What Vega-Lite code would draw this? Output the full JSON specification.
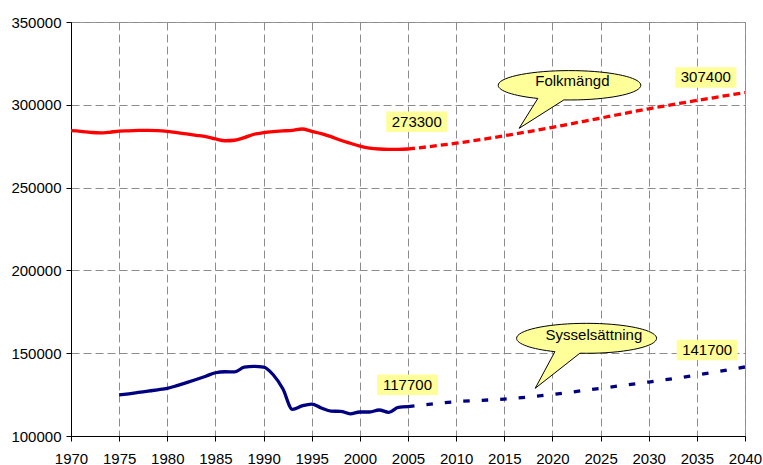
{
  "$schema": "https://vega.github.io/schema/vega-lite/v6.json",
  "width": 674,
  "height": 414,
  "autosize": {"type": "none"},
  "padding": {"left": 71, "top": 22, "right": 18, "bottom": 29},
  "background": "white",
  "config": {
    "font": "Liberation Sans",
    "view": {"stroke": "#999999", "strokeWidth": 1},
    "axis": {
      "domainColor": "#000000",
      "domainWidth": 1,
      "tickColor": "#000000",
      "tickSize": 5,
      "labelFont": "Liberation Sans",
      "labelFontSize": 15,
      "labelColor": "#000000",
      "gridColor": "#8c8c8c",
      "gridDash": [8, 4],
      "gridWidth": 1,
      "title": null
    }
  },
  "datasets": {
    "series": [
      {"year": 1970, "value": 284400, "series": "Folkmängd", "type": "Utfall"},
      {"year": 1971, "value": 284000, "series": "Folkmängd", "type": "Utfall"},
      {"year": 1972, "value": 283400, "series": "Folkmängd", "type": "Utfall"},
      {"year": 1973, "value": 283000, "series": "Folkmängd", "type": "Utfall"},
      {"year": 1974, "value": 283400, "series": "Folkmängd", "type": "Utfall"},
      {"year": 1975, "value": 284100, "series": "Folkmängd", "type": "Utfall"},
      {"year": 1976, "value": 284300, "series": "Folkmängd", "type": "Utfall"},
      {"year": 1977, "value": 284500, "series": "Folkmängd", "type": "Utfall"},
      {"year": 1978, "value": 284600, "series": "Folkmängd", "type": "Utfall"},
      {"year": 1979, "value": 284400, "series": "Folkmängd", "type": "Utfall"},
      {"year": 1980, "value": 283900, "series": "Folkmängd", "type": "Utfall"},
      {"year": 1981, "value": 283200, "series": "Folkmängd", "type": "Utfall"},
      {"year": 1982, "value": 282400, "series": "Folkmängd", "type": "Utfall"},
      {"year": 1983, "value": 281600, "series": "Folkmängd", "type": "Utfall"},
      {"year": 1984, "value": 280800, "series": "Folkmängd", "type": "Utfall"},
      {"year": 1985, "value": 279400, "series": "Folkmängd", "type": "Utfall"},
      {"year": 1986, "value": 278300, "series": "Folkmängd", "type": "Utfall"},
      {"year": 1987, "value": 278600, "series": "Folkmängd", "type": "Utfall"},
      {"year": 1988, "value": 280200, "series": "Folkmängd", "type": "Utfall"},
      {"year": 1989, "value": 282200, "series": "Folkmängd", "type": "Utfall"},
      {"year": 1990, "value": 283200, "series": "Folkmängd", "type": "Utfall"},
      {"year": 1991, "value": 283800, "series": "Folkmängd", "type": "Utfall"},
      {"year": 1992, "value": 284200, "series": "Folkmängd", "type": "Utfall"},
      {"year": 1993, "value": 284600, "series": "Folkmängd", "type": "Utfall"},
      {"year": 1994, "value": 285400, "series": "Folkmängd", "type": "Utfall"},
      {"year": 1995, "value": 284000, "series": "Folkmängd", "type": "Utfall"},
      {"year": 1996, "value": 282600, "series": "Folkmängd", "type": "Utfall"},
      {"year": 1997, "value": 280800, "series": "Folkmängd", "type": "Utfall"},
      {"year": 1998, "value": 278600, "series": "Folkmängd", "type": "Utfall"},
      {"year": 1999, "value": 276800, "series": "Folkmängd", "type": "Utfall"},
      {"year": 2000, "value": 275100, "series": "Folkmängd", "type": "Utfall"},
      {"year": 2001, "value": 273900, "series": "Folkmängd", "type": "Utfall"},
      {"year": 2002, "value": 273300, "series": "Folkmängd", "type": "Utfall"},
      {"year": 2003, "value": 273100, "series": "Folkmängd", "type": "Utfall"},
      {"year": 2004, "value": 273100, "series": "Folkmängd", "type": "Utfall"},
      {"year": 2005, "value": 273300, "series": "Folkmängd", "type": "Utfall"},
      {"year": 2005, "value": 273300, "series": "Folkmängd", "type": "Prognos"},
      {"year": 2010, "value": 276800, "series": "Folkmängd", "type": "Prognos"},
      {"year": 2015, "value": 281300, "series": "Folkmängd", "type": "Prognos"},
      {"year": 2020, "value": 286400, "series": "Folkmängd", "type": "Prognos"},
      {"year": 2025, "value": 292000, "series": "Folkmängd", "type": "Prognos"},
      {"year": 2030, "value": 297600, "series": "Folkmängd", "type": "Prognos"},
      {"year": 2035, "value": 302600, "series": "Folkmängd", "type": "Prognos"},
      {"year": 2040, "value": 307400, "series": "Folkmängd", "type": "Prognos"},
      {"year": 1975, "value": 124800, "series": "Sysselsättning", "type": "Utfall"},
      {"year": 1976, "value": 125500, "series": "Sysselsättning", "type": "Utfall"},
      {"year": 1977, "value": 126300, "series": "Sysselsättning", "type": "Utfall"},
      {"year": 1978, "value": 127100, "series": "Sysselsättning", "type": "Utfall"},
      {"year": 1979, "value": 127900, "series": "Sysselsättning", "type": "Utfall"},
      {"year": 1980, "value": 128800, "series": "Sysselsättning", "type": "Utfall"},
      {"year": 1981, "value": 130400, "series": "Sysselsättning", "type": "Utfall"},
      {"year": 1982, "value": 132200, "series": "Sysselsättning", "type": "Utfall"},
      {"year": 1983, "value": 134100, "series": "Sysselsättning", "type": "Utfall"},
      {"year": 1984, "value": 136100, "series": "Sysselsättning", "type": "Utfall"},
      {"year": 1985, "value": 138200, "series": "Sysselsättning", "type": "Utfall"},
      {"year": 1986, "value": 138800, "series": "Sysselsättning", "type": "Utfall"},
      {"year": 1987, "value": 138700, "series": "Sysselsättning", "type": "Utfall"},
      {"year": 1988, "value": 141600, "series": "Sysselsättning", "type": "Utfall"},
      {"year": 1989, "value": 142100, "series": "Sysselsättning", "type": "Utfall"},
      {"year": 1990, "value": 141600, "series": "Sysselsättning", "type": "Utfall"},
      {"year": 1991, "value": 137000, "series": "Sysselsättning", "type": "Utfall"},
      {"year": 1992, "value": 128500, "series": "Sysselsättning", "type": "Utfall"},
      {"year": 1993, "value": 116100, "series": "Sysselsättning", "type": "Utfall"},
      {"year": 1994, "value": 118200, "series": "Sysselsättning", "type": "Utfall"},
      {"year": 1995, "value": 119300, "series": "Sysselsättning", "type": "Utfall"},
      {"year": 1996, "value": 116900, "series": "Sysselsättning", "type": "Utfall"},
      {"year": 1997, "value": 115000, "series": "Sysselsättning", "type": "Utfall"},
      {"year": 1998, "value": 114900, "series": "Sysselsättning", "type": "Utfall"},
      {"year": 1999, "value": 113400, "series": "Sysselsättning", "type": "Utfall"},
      {"year": 2000, "value": 114500, "series": "Sysselsättning", "type": "Utfall"},
      {"year": 2001, "value": 114500, "series": "Sysselsättning", "type": "Utfall"},
      {"year": 2002, "value": 115700, "series": "Sysselsättning", "type": "Utfall"},
      {"year": 2003, "value": 114300, "series": "Sysselsättning", "type": "Utfall"},
      {"year": 2004, "value": 117300, "series": "Sysselsättning", "type": "Utfall"},
      {"year": 2005, "value": 117700, "series": "Sysselsättning", "type": "Utfall"},
      {"year": 2005, "value": 117700, "series": "Sysselsättning", "type": "Prognos"},
      {"year": 2010, "value": 120700, "series": "Sysselsättning", "type": "Prognos"},
      {"year": 2015, "value": 122300, "series": "Sysselsättning", "type": "Prognos"},
      {"year": 2020, "value": 125100, "series": "Sysselsättning", "type": "Prognos"},
      {"year": 2025, "value": 128800, "series": "Sysselsättning", "type": "Prognos"},
      {"year": 2030, "value": 132600, "series": "Sysselsättning", "type": "Prognos"},
      {"year": 2035, "value": 136800, "series": "Sysselsättning", "type": "Prognos"},
      {"year": 2040, "value": 141700, "series": "Sysselsättning", "type": "Prognos"}
    ],
    "labels": [
      {"year": 2005.91, "value": 286780, "label": "273300"},
      {"year": 2035.93, "value": 313530, "label": "307400"},
      {"year": 2004.95, "value": 127960, "label": "117700"},
      {"year": 2036.07, "value": 148910, "label": "141700"}
    ],
    "bubbles": [
      {"year": 2021.78, "value": 311780, "label": "Folkmängd"},
      {"year": 2023.55, "value": 158990, "label": "Sysselsättning"}
    ],
    "bubbleText": [
      {"year": 2022.07, "value": 311530, "label": "Folkmängd"},
      {"year": 2024.31, "value": 157970, "label": "Sysselsättning"}
    ]
  },
  "encoding": {
    "x": {
      "field": "year",
      "type": "quantitative",
      "scale": {"domain": [1970, 2040], "nice": false, "zero": false},
      "axis": {
        "values": [1970, 1975, 1980, 1985, 1990, 1995, 2000, 2005, 2010, 2015, 2020, 2025, 2030, 2035, 2040],
        "format": "d",
        "labelPadding": 10,
        "labelFlush": false,
        "labelOverlap": false,
        "grid": true
      }
    },
    "y": {
      "field": "value",
      "type": "quantitative",
      "scale": {"domain": [100000, 350000], "nice": false, "zero": false},
      "axis": {
        "values": [100000, 150000, 200000, 250000, 300000, 350000],
        "format": "d",
        "labelPadding": 5,
        "labelFlush": false,
        "labelOverlap": false,
        "grid": true
      }
    }
  },
  "layer": [
    {
      "data": {"name": "series"},
      "transform": [{"filter": "datum.series === 'Folkmängd' && datum.type === 'Utfall'"}],
      "mark": {"type": "line", "color": "#ff0000", "strokeWidth": 3.3, "interpolate": "monotone"}
    },
    {
      "data": {"name": "series"},
      "transform": [{"filter": "datum.series === 'Folkmängd' && datum.type === 'Prognos'"}],
      "mark": {"type": "line", "color": "#ff0000", "strokeWidth": 3.3, "interpolate": "monotone", "strokeDash": [7, 4], "strokeCap": "butt"}
    },
    {
      "data": {"name": "series"},
      "transform": [{"filter": "datum.series === 'Sysselsättning' && datum.type === 'Utfall'"}],
      "mark": {"type": "line", "color": "#000080", "strokeWidth": 3.3, "interpolate": "monotone"}
    },
    {
      "data": {"name": "series"},
      "transform": [{"filter": "datum.series === 'Sysselsättning' && datum.type === 'Prognos'"}],
      "mark": {"type": "line", "color": "#000080", "strokeWidth": 3.3, "interpolate": "monotone", "strokeDash": [6.5, 12], "strokeCap": "butt"}
    },
    {
      "data": {"name": "bubbles"},
      "transform": [{"filter": "datum.label === 'Folkmängd'"}],
      "mark": {
        "type": "point",
        "filled": true,
        "fill": "#ffff99",
        "fillOpacity": 1,
        "stroke": "#000000",
        "strokeWidth": 1,
        "opacity": 1,
        "size": 20335,
        "shape": "M -0.445 0.1845 A 1 0.206 0 1 1 -0.08 0.2053 L -0.707 0.603 Z"
      }
    },
    {
      "data": {"name": "bubbles"},
      "transform": [{"filter": "datum.label === 'Sysselsättning'"}],
      "mark": {
        "type": "point",
        "filled": true,
        "fill": "#ffff99",
        "fillOpacity": 1,
        "stroke": "#000000",
        "strokeWidth": 1,
        "opacity": 1,
        "size": 19600,
        "shape": "M -0.453 0.1908 A 1 0.214 0 1 1 -0.096 0.213 L -0.734 0.714 Z"
      }
    },
    {
      "data": {"name": "bubbleText"},
      "mark": {"type": "text", "align": "center", "baseline": "alphabetic", "fontSize": 15, "color": "#000000", "font": "Liberation Sans"},
      "encoding": {"text": {"field": "label"}}
    },
    {
      "data": {"name": "labels"},
      "mark": {
        "type": "point",
        "filled": true,
        "fill": "#ffff99",
        "fillOpacity": 1,
        "strokeWidth": 0,
        "opacity": 1,
        "size": 3721,
        "yOffset": -5,
        "shape": "M -1 -0.336 L 1 -0.336 L 1 0.336 L -1 0.336 Z"
      }
    },
    {
      "data": {"name": "labels"},
      "mark": {"type": "text", "align": "center", "baseline": "alphabetic", "fontSize": 15, "color": "#000000", "font": "Liberation Sans"},
      "encoding": {"text": {"field": "label"}}
    }
  ]
}
